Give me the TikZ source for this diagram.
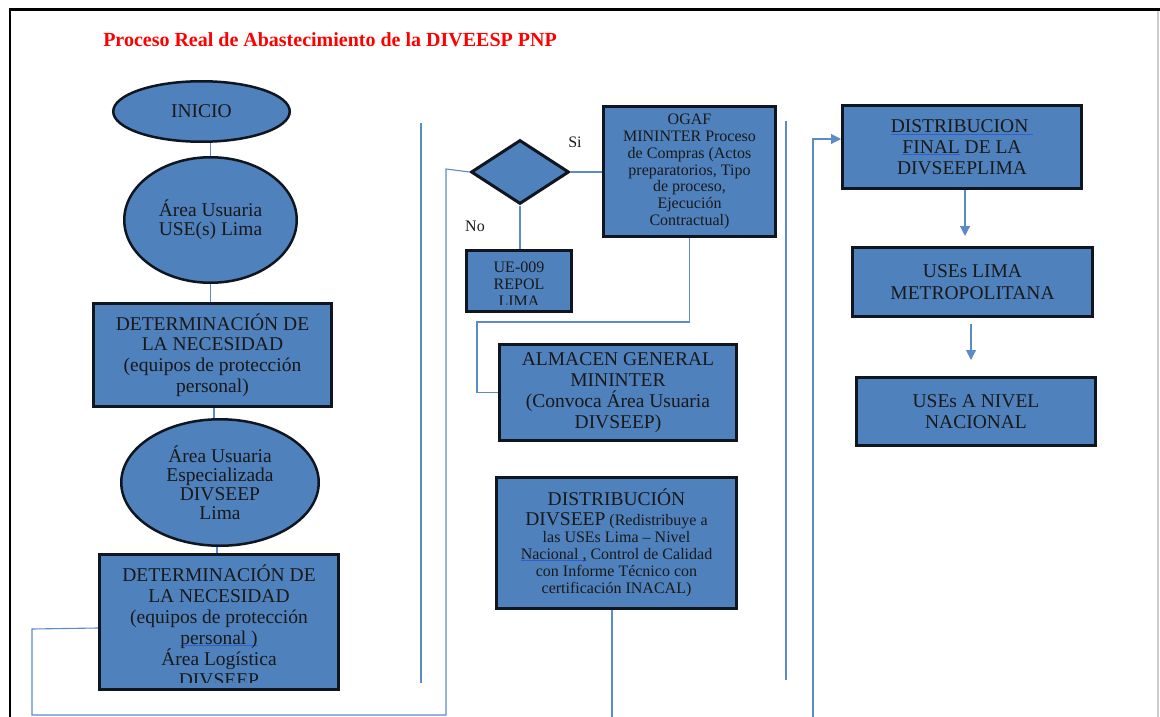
\documentclass[tikz,border=0pt]{standalone}
\usepackage{fontspec}
\setmainfont{Liberation Serif}
\usetikzlibrary{shapes.geometric,arrows.meta,calc}
\definecolor{boxfill}{HTML}{4F81BD}
\definecolor{boxline}{HTML}{10161F}
\definecolor{conn}{HTML}{5B8BC9}
\definecolor{ulblue}{HTML}{2F5FD0}
\definecolor{titlered}{HTML}{FF0000}
\newsavebox\myulbox
\newcommand\bul[1]{\sbox\myulbox{#1}\rlap{\textcolor{ulblue}{\rule[-0.22ex]{\wd\myulbox}{0.9pt}}}\usebox\myulbox}
\begin{document}
\begin{tikzpicture}[x=1pt,y=-1pt,
 box/.style={draw=boxline,line width=3pt,fill=boxfill,inner sep=0pt,align=center,text=black!90},
 oval/.style={ellipse,draw=boxline,line width=2.5pt,fill=boxfill,inner sep=0pt,align=center,text=black!90},
 big/.style={font=\fontsize{19.5}{20.8}\selectfont},
 small/.style={font=\fontsize{16}{16.7}\selectfont},
 conline/.style={draw=conn,line width=1.1pt},
 arr/.style={conline,-{Triangle[length=10pt,width=10pt]}},
 lbl/.style={font=\fontsize{16}{18}\selectfont,inner sep=0pt,text=black!90},
 sep/.style={draw=conn,line width=1.1pt}
]
\useasboundingbox (0,0) rectangle (1160,717);
\fill[white] (0,0) rectangle (1160,717);
% frame
\draw[black,line width=3pt] (9,10) -- (1160,10);
\draw[black,line width=2.5pt] (10,10) -- (10,717);
\draw[black!20,line width=1.5pt] (1158,11) -- (1158,717);

% title
\node[font=\fontsize{20}{22}\selectfont\bfseries,text=titlered,inner sep=0pt] (title) at (330,40) {Proceso Real de Abastecimiento de la DIVEESP PNP};

% left column
\node[oval,big,minimum width=176.5pt,minimum height=60.5pt] (ini) at (201.5,111.5) {INICIO};
\node[oval,font=\fontsize{19.5}{19}\selectfont,minimum width=172.5pt,minimum height=125.5pt] (ua) at (210.5,220) {Área Usuaria\\USE(s) Lima};
\node[box,big,minimum width=238pt,minimum height=103pt] (b1) at (212.5,355) {DETERMINACIÓN DE\\LA NECESIDAD\\(equipos de protección\\personal)};
\node[oval,font=\fontsize{19.5}{19}\selectfont,minimum width=197.5pt,minimum height=126.5pt] (uae) at (220,482.5) {Área Usuaria\\Especializada\\DIVSEEP\\Lima};
\node[box,minimum width=239pt,minimum height=135pt] (b2) at (219,622) {};
\begin{scope}
\clip (100,556) rectangle (338,682);
\node[big,align=center,inner sep=0pt,text=black!90] (b2t) at (219,626) {DETERMINACIÓN DE\\LA NECESIDAD\\(equipos de protección\\\bul{personal )}\\Área Logística\\DIVSEEP};
\end{scope}

% separator lines
\draw[sep] (421,123) -- (421,683);
\draw[sep] (786,121) -- (786,680);

% middle column
\node[diamond,draw=boxline,line width=3pt,fill=boxfill,inner sep=0pt,minimum width=98pt,minimum height=64pt] (dia) at (520,172) {};
\node[lbl] (si) at (575,142) {Si};
\node[lbl] (no) at (475,226) {No};
\node[box,minimum width=105pt,minimum height=61pt] (ue) at (519,281) {};
\begin{scope}
\clip (468,252) rectangle (570,304);
\node[small,align=center,inner sep=0pt,text=black!90] (uet) at (519,284) {UE-009\\REPOL\\LIMA};
\end{scope}
\node[box,small,minimum width=172pt,minimum height=130pt] (ogaf) at (689.5,171.5) {OGAF\\MININTER Proceso\\de Compras (Actos\\preparatorios, Tipo\\de proceso,\\Ejecución\\Contractual)};
\node[box,big,minimum width=237pt,minimum height=96pt] (alm) at (618,392.5) {ALMACEN GENERAL\\MININTER\\(Convoca Área Usuaria\\DIVSEEP)};
\node[box,font=\fontsize{16}{17}\selectfont,minimum width=240pt,minimum height=131pt] (dist) at (616.5,543) {{\fontsize{19.5}{20.8}\selectfont DISTRIBUCIÓN}\\[3pt]{\fontsize{19.5}{20.8}\selectfont DIVSEEP} (Redistribuye a\\las USEs Lima – Nivel\\\bul{Nacional ,} Control de Calidad\\con Informe Técnico con\\certificación INACAL)};

% right column
\node[box,big,minimum width=239pt,minimum height=83pt] (fin) at (962,147) {\bul{DISTRIBUCION\ }\\\bul{FINAL} DE LA\\DIVSEEPLIMA};
\node[box,font=\fontsize{19.5}{21.5}\selectfont,minimum width=240pt,minimum height=69pt] (lima) at (972.5,282) {USEs LIMA\\METROPOLITANA};
\node[box,font=\fontsize{19.5}{21.5}\selectfont,minimum width=239pt,minimum height=68pt] (nac) at (976,411.5) {USEs A NIVEL\\NACIONAL};

% connectors
\draw[conline] (ini.south -| ua.north) -- (ua.north);
\draw[conline] (ua.south) -- (ua.south |- b1.north);
\draw[conline] (b1.south -| 214,0) -- (uae.north -| 214,0);
\draw[conline] (uae.south -| 217,0) -- (b2.north -| 217,0);

\coordinate (l1) at (32,629);
\coordinate (l2) at (32,715);
\coordinate (l3) at (446,715);
\coordinate (l4) at (446,169);
\draw[conline] ([yshift=-6pt]b2.west) -- (l1) -- (l2) -- (l3) -- (l4) -- (dia.west);

\draw[conline] (dia.east) -- (dia.east -| ogaf.west);
\draw[conline] (dia.south) -- (dia.south |- ue.north);

\coordinate (m1) at (477,322);
\draw[conline] (ogaf.south) |- (m1) |- (alm.west);

\coordinate (d1) at (612,717);
\draw[conline] (dist.south -| d1) -- (d1);

\coordinate (r1) at (813,717);
\draw[arr] (r1) |- ([yshift=8pt]fin.west);

\draw[arr,shorten >=10pt] (fin.south -| 965,0) -- (lima.north -| 965,0);
\draw[arr,shorten <=6pt,shorten >=16pt] (lima.south -| 971,0) -- (nac.north -| 971,0);
\end{tikzpicture}
\end{document}
